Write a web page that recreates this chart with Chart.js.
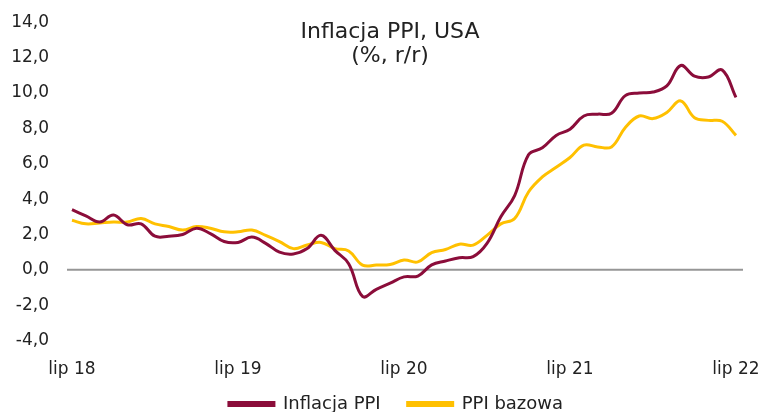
<!DOCTYPE html>
<html>
<head>
<meta charset="utf-8">
<script src="https://cdn.jsdelivr.net/npm/chart.js@4"></script>
<style>
  body { margin: 0; background: #fff; }
  #wrap { position: relative; width: 760px; height: 412px; }
  #title {
    position: absolute; left: 0; top: 19px; width: 780px;
    text-align: center; font: 22px "DejaVu Sans", Verdana, sans-serif;
    color: #222; line-height: 24px;
  }
</style>
</head>
<body>
<div id="wrap">
  <canvas id="ppiChart" width="760" height="412"></canvas>
  <div id="title">Inflacja PPI, USA<br>(%, r/r)</div>
</div>
<script>
// monthly, lip 18 .. lip 22
const years = ['18', '19', '20', '21', '22'];
const months = [];
for (let i = 0; i < 49; i++) {
  months.push(i % 12 === 0 ? 'lip ' + years[i / 12] : '');
}

const ppi = [3.4, 3.05, 2.7, 3.1, 2.55, 2.6, 1.9, 1.9, 2.0, 2.35, 2.05, 1.6,
  1.55, 1.85, 1.5, 1.0, 0.9, 1.2, 1.95, 1.1, 0.35, -1.5, -1.1, -0.75,
  -0.4, -0.35, 0.28, 0.5, 0.68, 0.75, 1.5, 3.0, 4.2, 6.5, 6.9, 7.6,
  7.95, 8.7, 8.8, 8.85, 9.85, 10.0, 10.05, 10.4, 11.55, 10.95, 10.9, 11.3, 9.75];

const ppiCore = [2.8, 2.6, 2.65, 2.7, 2.7, 2.9, 2.6, 2.45, 2.25, 2.45, 2.35, 2.15,
  2.15, 2.25, 1.95, 1.6, 1.2, 1.4, 1.55, 1.2, 1.07, 0.27, 0.27, 0.3,
  0.55, 0.45, 0.97, 1.15, 1.45, 1.4, 1.95, 2.6, 2.9, 4.4, 5.25, 5.8,
  6.35, 7.05, 6.95, 6.95, 8.05, 8.7, 8.55, 8.9, 9.55, 8.6, 8.45, 8.4, 7.6];

const FONT = '"DejaVu Sans", Verdana, sans-serif';

// zero line, a bit wider than the plot like in the original
const zeroLine = {
  id: 'zeroLine',
  beforeDatasetsDraw(chart) {
    const { ctx, chartArea, scales } = chart;
    const y = scales.y.getPixelForValue(0);
    ctx.save();
    ctx.strokeStyle = '#969696';
    ctx.lineWidth = 2;
    ctx.beginPath();
    ctx.moveTo(chartArea.left - 5, y);
    ctx.lineTo(chartArea.right + 7, y);
    ctx.stroke();
    ctx.restore();
  }
};

// legend sits a bit right of centre and closer to the axis labels
const legendNudge = {
  id: 'legendNudge',
  afterLayout(chart) {
    const l = chart.legend;
    l.left += 24; l.right += 24;
    l.top -= 12; l.bottom -= 12;
  }
};

new Chart(document.getElementById('ppiChart'), {
  type: 'line',
  data: {
    labels: months,
    datasets: [
      {
        label: 'Inflacja PPI',
        data: ppi,
        borderColor: '#8b0d3a',
        backgroundColor: '#8b0d3a',
        borderWidth: 3,
        pointRadius: 0,
        tension: 0.4
      },
      {
        label: 'PPI bazowa',
        data: ppiCore,
        borderColor: '#ffc000',
        backgroundColor: '#ffc000',
        borderWidth: 3,
        pointRadius: 0,
        tension: 0.4
      }
    ]
  },
  options: {
    responsive: false,
    animation: false,
    layout: { padding: { top: 0, left: 8, right: 24, bottom: -23 } },
    scales: {
      x: {
        offset: false,
        grid: { display: false, drawTicks: true, tickLength: 19 },
        border: { display: false },
        ticks: {
          autoSkip: false, maxRotation: 0, padding: 0,
          color: '#222', font: { family: FONT, size: 17 }
        }
      },
      y: {
        min: -4, max: 14,
        grid: { display: false, drawTicks: true, tickLength: 11 },
        border: { display: false },
        ticks: {
          stepSize: 2, padding: 12,
          color: '#222', font: { family: FONT, size: 17 },
          callback: v => v.toFixed(1).replace('.', ',')
        },
        afterFit: s => { s.width = 64; }
      }
    },
    plugins: {
      tooltip: { enabled: false },
      legend: {
        position: 'bottom',
        labels: {
          boxWidth: 45, boxHeight: 3, padding: 27,
          color: '#222', font: { family: FONT, size: 18 }
        }
      }
    }
  },
  plugins: [zeroLine, legendNudge]
});
</script>
</body>
</html>
